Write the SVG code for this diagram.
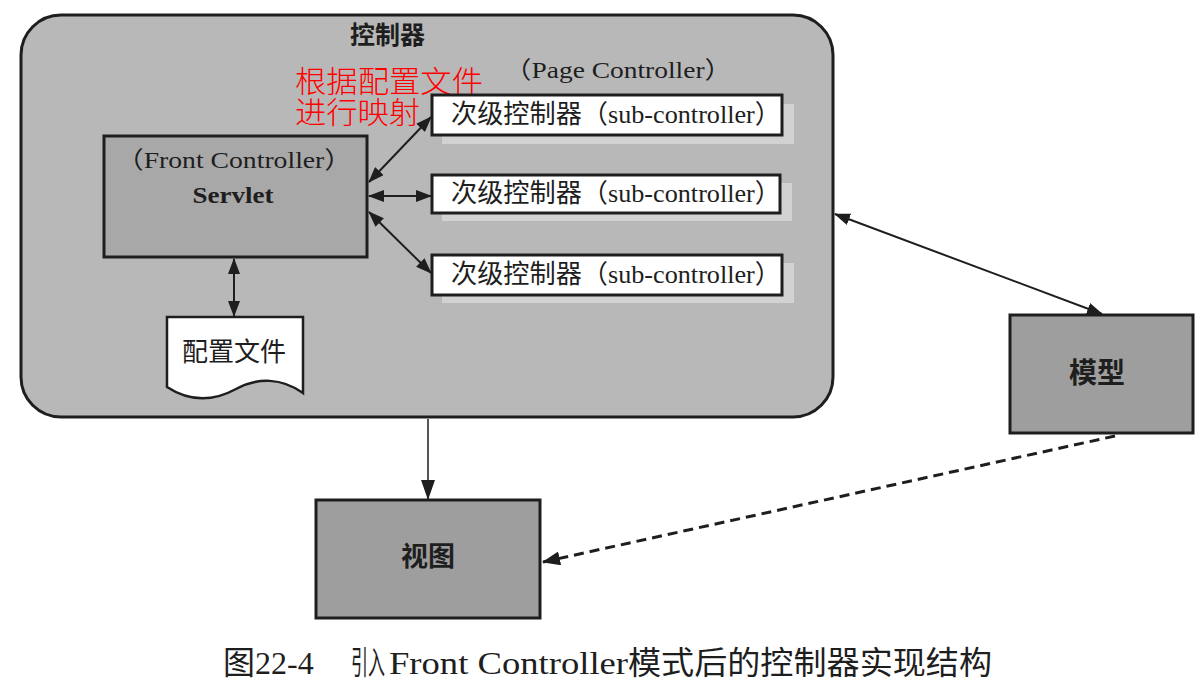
<svg xmlns="http://www.w3.org/2000/svg" width="1200" height="683" viewBox="0 0 1200 683">
<style>
.box{stroke:#1e1e1e;stroke-width:3}
.sub{fill:#ffffff;stroke:#1e1e1e;stroke-width:3}
.shadow{fill:#d2d2d2}
.lat{font-family:"Liberation Serif","Noto Sans CJK SC",serif;fill:#1e1e1e}
.cjk{font-family:"Noto Sans CJK SC",sans-serif;fill:#1e1e1e}
.b{font-weight:bold}
.red{font-family:"Noto Sans CJK SC",sans-serif;font-weight:300;fill:#ff0000;font-size:30px}
.con{stroke:#1e1e1e;stroke-width:2;fill:none}
.thin{stroke-width:1.5}
.dash{stroke-width:3;stroke-dasharray:10 6}
</style>
<defs>
<marker id="ah" markerUnits="userSpaceOnUse" markerWidth="16" markerHeight="12" refX="15" refY="6" orient="auto-start-reverse" viewBox="0 0 16 12">
<path d="M0,0 L16,6 L0,12 z" fill="#1e1e1e"/>
</marker>
<marker id="ahl" markerUnits="userSpaceOnUse" markerWidth="20" markerHeight="14" refX="19" refY="7" orient="auto" viewBox="0 0 20 14">
<path d="M0,0 L20,7 L0,14 z" fill="#1e1e1e"/>
</marker>
<marker id="ahd" markerUnits="userSpaceOnUse" markerWidth="18" markerHeight="14" refX="17" refY="7" orient="auto" viewBox="0 0 18 14">
<path d="M0,0 L18,7 L0,14 z" fill="#1e1e1e"/>
</marker>
</defs>
<rect width="1200" height="683" fill="#ffffff"/>

<g id="controller">
<rect x="21" y="15" width="812" height="402" rx="40" ry="40" fill="#b8b8b8" stroke="#1e1e1e" stroke-width="3"/>
<text class="cjk b" x="350" y="44" font-size="25">控制器</text>
<text class="lat" x="618" y="78" font-size="24" text-anchor="middle" textLength="228" lengthAdjust="spacingAndGlyphs">（Page Controller）</text>
</g>

<g id="mapping-note">
<text class="red"><tspan x="295" y="92" textLength="188" lengthAdjust="spacingAndGlyphs">根据配置文件</tspan><tspan x="295" y="123" textLength="125" lengthAdjust="spacingAndGlyphs">进行映射</tspan></text>
</g>

<g id="servlet">
<rect class="box" x="104" y="136" width="263" height="121" fill="#a8a8a8"/>
<text class="lat" x="234" y="168" font-size="24" text-anchor="middle" textLength="236" lengthAdjust="spacingAndGlyphs">（Front Controller）</text>
<text class="lat b" x="233" y="203" font-size="24" text-anchor="middle" textLength="81" lengthAdjust="spacingAndGlyphs">Servlet</text>
</g>

<g id="sub1">
<rect class="shadow" x="442" y="104" width="352" height="40"/>
<rect class="sub" x="432" y="95" width="350" height="40"/>
<text class="lat" x="451" y="123" font-size="26" textLength="330" lengthAdjust="spacingAndGlyphs">次级控制器（sub-controller）</text>
</g>
<g id="sub2">
<rect class="shadow" x="442" y="183" width="350" height="38"/>
<rect class="sub" x="432" y="175" width="348" height="38"/>
<text class="lat" x="451" y="202" font-size="26" textLength="330" lengthAdjust="spacingAndGlyphs">次级控制器（sub-controller）</text>
</g>
<g id="sub3">
<rect class="shadow" x="442" y="263" width="352" height="40"/>
<rect class="sub" x="432" y="255" width="350" height="40"/>
<text class="lat" x="451" y="283" font-size="26" textLength="330" lengthAdjust="spacingAndGlyphs">次级控制器（sub-controller）</text>
</g>

<g id="config-file">
<path d="M167,317 L303,317 L303,393 C282,378 258,377 236,389 C214,401 190,402 167,387 Z" fill="#ffffff" stroke="#1e1e1e" stroke-width="2.5"/>
<text class="cjk" x="234" y="361" font-size="26" text-anchor="middle">配置文件</text>
</g>

<g id="model">
<rect class="box" x="1010" y="315" width="183" height="118" fill="#9e9e9e"/>
<text class="cjk b" x="1097" y="383" font-size="28" text-anchor="middle">模型</text>
</g>

<g id="view">
<rect class="box" x="316" y="500" width="224" height="118" fill="#9e9e9e"/>
<text class="cjk b" x="428" y="566" font-size="27" text-anchor="middle">视图</text>
</g>

<g id="connectors">
<line class="con" x1="369" y1="182" x2="431" y2="117" marker-start="url(#ah)" marker-end="url(#ah)"/>
<line class="con" x1="369" y1="196" x2="431" y2="196" marker-start="url(#ah)" marker-end="url(#ah)"/>
<line class="con" x1="369" y1="212" x2="431" y2="273" marker-start="url(#ah)" marker-end="url(#ah)"/>
<line class="con" x1="234" y1="259" x2="234" y2="316" marker-start="url(#ah)" marker-end="url(#ah)"/>
<line class="con" x1="835" y1="214" x2="1102" y2="314" marker-start="url(#ah)" marker-end="url(#ah)"/>
<line class="con thin" x1="428" y1="419" x2="428" y2="499" marker-end="url(#ahl)"/>
<line class="con dash" x1="1115" y1="436" x2="543" y2="562" marker-end="url(#ahd)"/>
</g>

<g id="caption">
<text class="lat" y="674" font-size="32"><tspan x="223">图22-4</tspan><tspan x="351" textLength="34" lengthAdjust="spacingAndGlyphs">引入</tspan><tspan x="389" textLength="239" lengthAdjust="spacingAndGlyphs">Front Controller</tspan><tspan x="628" textLength="364" lengthAdjust="spacingAndGlyphs">模式后的控制器实现结构</tspan></text>
</g>
</svg>
